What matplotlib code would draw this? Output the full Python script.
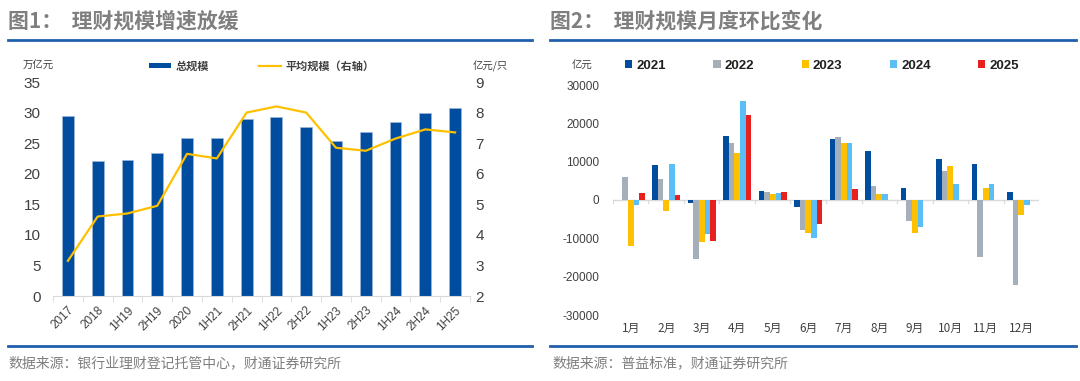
import matplotlib.pyplot as plt
import numpy as np
from matplotlib.lines import Line2D
from matplotlib.patches import Patch

plt.rcParams['font.family'] = ['Liberation Sans', 'Noto Sans CJK SC', 'DejaVu Sans']
cjk = ['Noto Sans CJK SC', 'DejaVu Sans']

# figure 1: total size (万亿元) and average size per product (亿元/只)
periods = ['2017', '2018', '1H19', '2H19', '2020', '1H21', '2H21', '1H22',
           '2H22', '1H23', '2H23', '1H24', '2H24', '1H25']
total_size = [29.5, 22.0, 22.2, 23.4, 25.9, 25.8, 29.0, 29.2, 27.7, 25.3, 26.8, 28.5, 30.0, 30.7]
avg_size = [3.15, 4.6, 4.7, 4.95, 6.65, 6.5, 8.0, 8.2, 8.0, 6.85, 6.75, 7.15, 7.45, 7.35]

# figure 2: month-on-month change (亿元)
months = ['1月', '2月', '3月', '4月', '5月', '6月', '7月', '8月', '9月', '10月', '11月', '12月']
years = ['2021', '2022', '2023', '2024', '2025']
nan = np.nan
mom_2021 = [nan, 9200, -700, 16800, 2400, -1800, 16000, 12700, 3200, 10600, 9300, 2200]
mom_2022 = [6000, 5600, -15300, 14800, 2000, -7800, 16400, 3600, -5400, 7500, -14800, -22200]
mom_2023 = [-12000, -2800, -11000, 12300, 1500, -8500, 15000, 1500, -8600, 9000, 3100, -4000]
mom_2024 = [-1200, 9500, -8800, 25800, 1700, -9800, 14800, 1500, -7100, 4100, 4300, -1400]
mom_2025 = [1700, 1200, -10800, 22100, 2000, -6300, 3000, nan, nan, nan, nan, nan]
mom_series = [mom_2021, mom_2022, mom_2023, mom_2024, mom_2025]
year_colors = ['#004C9E', '#A5AFBA', '#FFC000', '#5BBFF7', '#E8211E']

navy = '#004C9E'
gold = '#FFC000'
title_gray = '#7F7F7F'
rule_blue = '#1F5FAD'
tick_col = '#404040'

fig = plt.figure(figsize=(10.8, 3.81), dpi=100)
W, H = 1080, 381

def fx(px):
    return px / W

def fy(py):
    return 1 - py / H

# titles, rules and sources
fig.text(fx(8), fy(21), '图1：  理财规模增速放缓', family=cjk, fontsize=15,
         fontweight='bold', color=title_gray, va='center')
fig.text(fx(550), fy(21), '图2：  理财规模月度环比变化', family=cjk, fontsize=15,
         fontweight='bold', color=title_gray, va='center')
for x0, x1 in [(8, 532), (550, 1076)]:
    fig.add_artist(Line2D([fx(x0), fx(x1)], [fy(40), fy(40)], color=rule_blue, lw=2))
    fig.add_artist(Line2D([fx(x0), fx(x1)], [fy(346), fy(346)], color=rule_blue, lw=2))
fig.text(fx(8), fy(363), '数据来源：银行业理财登记托管中心，财通证券研究所', family=cjk,
         fontsize=10, color=title_gray, va='center')
fig.text(fx(552), fy(363), '数据来源：普益标准，财通证券研究所', family=cjk,
         fontsize=10, color=title_gray, va='center')

# ---- left chart
ax1 = fig.add_axes([fx(53), fy(296), fx(470 - 53), (296 - 82) / H])
x = np.arange(len(periods))
ax1.bar(x, total_size, width=0.4, color=navy, edgecolor='#9DB5D9', linewidth=0.5, zorder=2)
ax1.set_ylim(0, 35)
ax1.set_xlim(-0.5, len(periods) - 0.5)
ax1.set_yticks(np.arange(0, 36, 5))
ax1.set_xticks(x)
ax1.set_xticklabels(periods, rotation=45, fontsize=8.5, color=tick_col, ha='right',
                    rotation_mode='anchor')
ax1.set_xticks(np.arange(-0.5, len(periods), 1), minor=True)
ax1.tick_params(axis='x', which='major', length=0, pad=6)
ax1.tick_params(axis='x', which='minor', length=4, color='#D9D9D9', direction='out')
ax1.tick_params(axis='y', length=0, labelsize=11, labelcolor=tick_col, pad=9)
for s in ['top', 'right', 'left']:
    ax1.spines[s].set_visible(False)
ax1.spines['bottom'].set_color('#D9D9D9')

ax1r = ax1.twinx()
ax1r.plot(x, avg_size, color=gold, lw=1.6, zorder=3)
ax1r.set_ylim(2, 9)
ax1r.set_yticks(np.arange(2, 10, 1))
ax1r.tick_params(axis='y', length=0, labelsize=11, labelcolor=tick_col, pad=4)
for s in ['top', 'right', 'left', 'bottom']:
    ax1r.spines[s].set_visible(False)

fig.text(fx(38), fy(66), '万亿元', family=cjk, fontsize=7.5, color=tick_col,
         ha='center', va='center', style='italic')
fig.text(fx(490), fy(66), '亿元/只', family=cjk, fontsize=7.5, color=tick_col,
         ha='center', va='center', style='italic')
h1 = [Patch(facecolor=navy), Line2D([], [], color=gold, lw=1.6)]
fig.legend(h1, ['总规模', '平均规模（右轴）'], ncol=2, frameon=False,
           loc='center', bbox_to_anchor=(fx(262), fy(66)), prop={'family': cjk, 'size': 8,
           'weight': 'bold'}, handlelength=2.0, handleheight=0.35, columnspacing=4.5,
           handletextpad=0.4, labelcolor=tick_col)

# ---- right chart
ax2 = fig.add_axes([fx(613), fy(315), fx(1039 - 613), (315 - 85) / H])
xm = np.arange(len(months))
bw = 0.155
for i, (vals, col) in enumerate(zip(mom_series, year_colors)):
    ax2.bar(xm + (i - 2) * bw, vals, width=bw, color=col, zorder=2)
ax2.axhline(0, color='#D9D9D9', lw=1, zorder=1)
ax2.set_ylim(-30000, 30000)
ax2.set_xlim(-0.5, len(months) - 0.5)
ax2.set_yticks(np.arange(-30000, 30001, 10000))
ax2.set_yticklabels([f'{v:d}' for v in range(-30000, 30001, 10000)])
ax2.set_xticks(xm)
ax2.set_xticklabels(months, family=cjk, fontsize=8.5, color=tick_col)
ax2.tick_params(axis='x', length=0, pad=5)
ax2.tick_params(axis='y', length=0, labelsize=8.5, labelcolor=tick_col, pad=10)
for s in ax2.spines.values():
    s.set_visible(False)
for b in np.arange(-0.5, len(months), 1):
    ax2.plot([b, b], [0, -700], color='#D9D9D9', lw=0.8, zorder=1)

fig.text(fx(582), fy(66), '亿元', family=cjk, fontsize=7.5, color=tick_col,
         ha='center', va='center', style='italic')
h2 = [Patch(facecolor=c) for c in year_colors]
fig.legend(h2, years, ncol=5, frameon=False, loc='center',
           bbox_to_anchor=(fx(822), fy(66)), prop={'size': 9.5, 'weight': 'bold'},
           handlelength=0.55, handleheight=0.55, columnspacing=3.6, handletextpad=0.3,
           labelcolor='#202020')

fig.savefig('out.png', dpi=100)
